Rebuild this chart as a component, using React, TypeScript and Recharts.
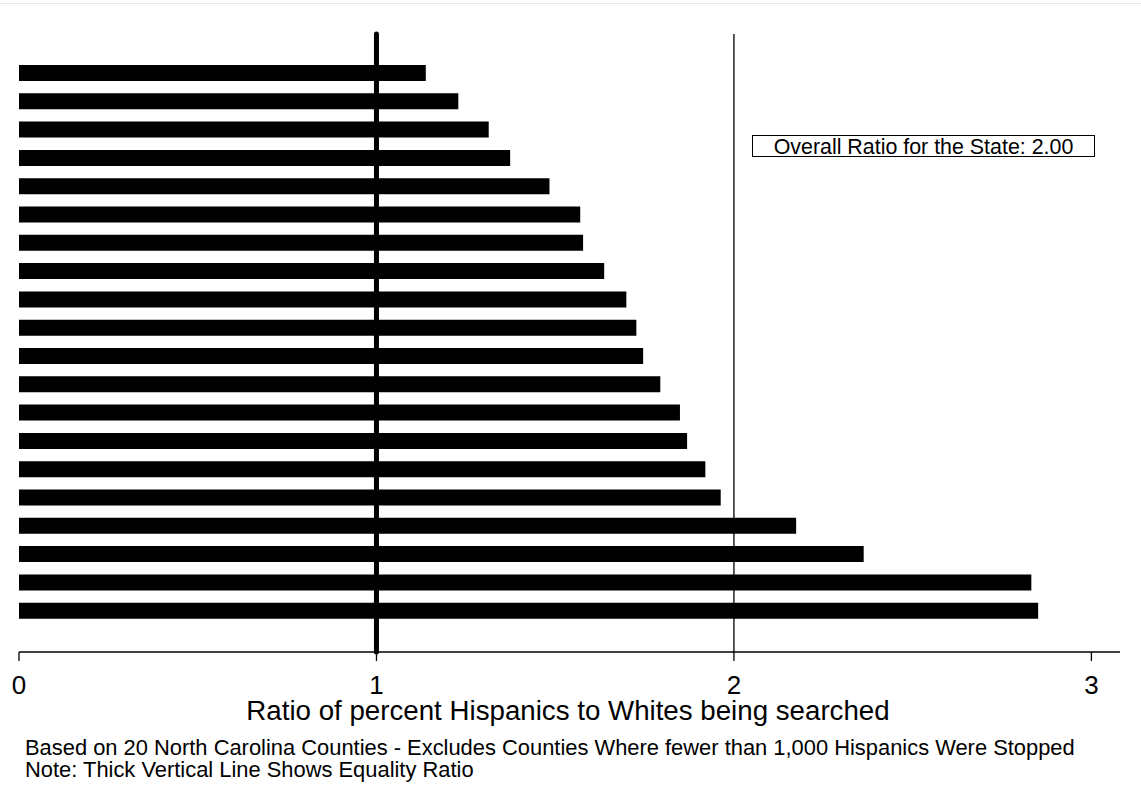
import { BarChart, Bar, XAxis, YAxis, ReferenceLine } from "recharts";

// county names are not shown on the chart, so they are just ranks here
const counties = [
  "C1", "C2", "C3", "C4", "C5", "C6", "C7", "C8", "C9", "C10",
  "C11", "C12", "C13", "C14", "C15", "C16", "C17", "C18", "C19", "C20",
];

const ratios = [
  1.138, 1.229, 1.314, 1.374, 1.484, 1.57, 1.578, 1.637, 1.699, 1.727,
  1.746, 1.794, 1.849, 1.869, 1.92, 1.963, 2.174, 2.363, 2.832, 2.851,
];

const xTicks = [0, 1, 2, 3];
const equalityRatio = 1;
const stateRatio = 2;

const notes = [
  "Based on 20 North Carolina Counties - Excludes Counties Where fewer than 1,000 Hispanics Were Stopped",
  "Note: Thick Vertical Line Shows Equality Ratio",
];

const data = counties.map((county, i) => ({ county, ratio: ratios[i] }));

const font = "'Liberation Sans', Arial, sans-serif";

const App = () => (
  <div style={{ position: "absolute", left: 0, top: 0, width: 1141, height: 812, background: "#fff", fontFamily: font }}>
    <div style={{ position: "absolute", left: 0, top: 3, width: 1141, height: 1, background: "#e3e8e8" }} />
    <BarChart
      width={1141}
      height={812}
      data={data}
      layout="vertical"
      margin={{ top: 34, right: 21, bottom: 0, left: 19 }}
    >
      <XAxis
        type="number"
        domain={[0, 3.08]}
        ticks={xTicks}
        allowDataOverflow
        height={160}
        tickSize={9}
        tickMargin={15}
        axisLine={{ stroke: "#000", strokeWidth: 1.3 }}
        tickLine={{ stroke: "#000", strokeWidth: 1.3 }}
        tick={{ fontSize: 26, fill: "#000", fontFamily: font }}
      />
      <YAxis
        type="category"
        dataKey="county"
        width={0}
        tick={false}
        tickLine={false}
        axisLine={{ stroke: "#000", strokeWidth: 1.3 }}
        padding={{ top: 25, bottom: 27 }}
      />
      <ReferenceLine x={stateRatio} stroke="#000" strokeWidth={1.3} />
      <Bar dataKey="ratio" fill="#000" barSize={16} isAnimationActive={false} />
      <ReferenceLine x={equalityRatio} stroke="#000" strokeWidth={5} strokeLinecap="round" />
    </BarChart>
    <div
      style={{
        position: "absolute",
        left: 752,
        top: 135,
        width: 341,
        height: 20,
        border: "1px solid #000",
        fontSize: 21.4,
        lineHeight: "22px",
        textAlign: "center",
        whiteSpace: "nowrap",
        color: "#000",
      }}
    >
      Overall Ratio for the State: 2.00
    </div>
    <div
      style={{
        position: "absolute",
        left: 0,
        width: 1136,
        top: 699,
        textAlign: "center",
        fontSize: 27.7,
        lineHeight: "24px",
        whiteSpace: "nowrap",
        color: "#000",
      }}
    >
      Ratio of percent Hispanics to Whites being searched
    </div>
    {notes.map((line, i) => (
      <div
        key={line}
        style={{
          position: "absolute",
          left: 25,
          top: 738 + i * 22,
          fontSize: 21.9,
          lineHeight: "20px",
          whiteSpace: "nowrap",
          color: "#000",
        }}
      >
        {line}
      </div>
    ))}
  </div>
);

export default App;
